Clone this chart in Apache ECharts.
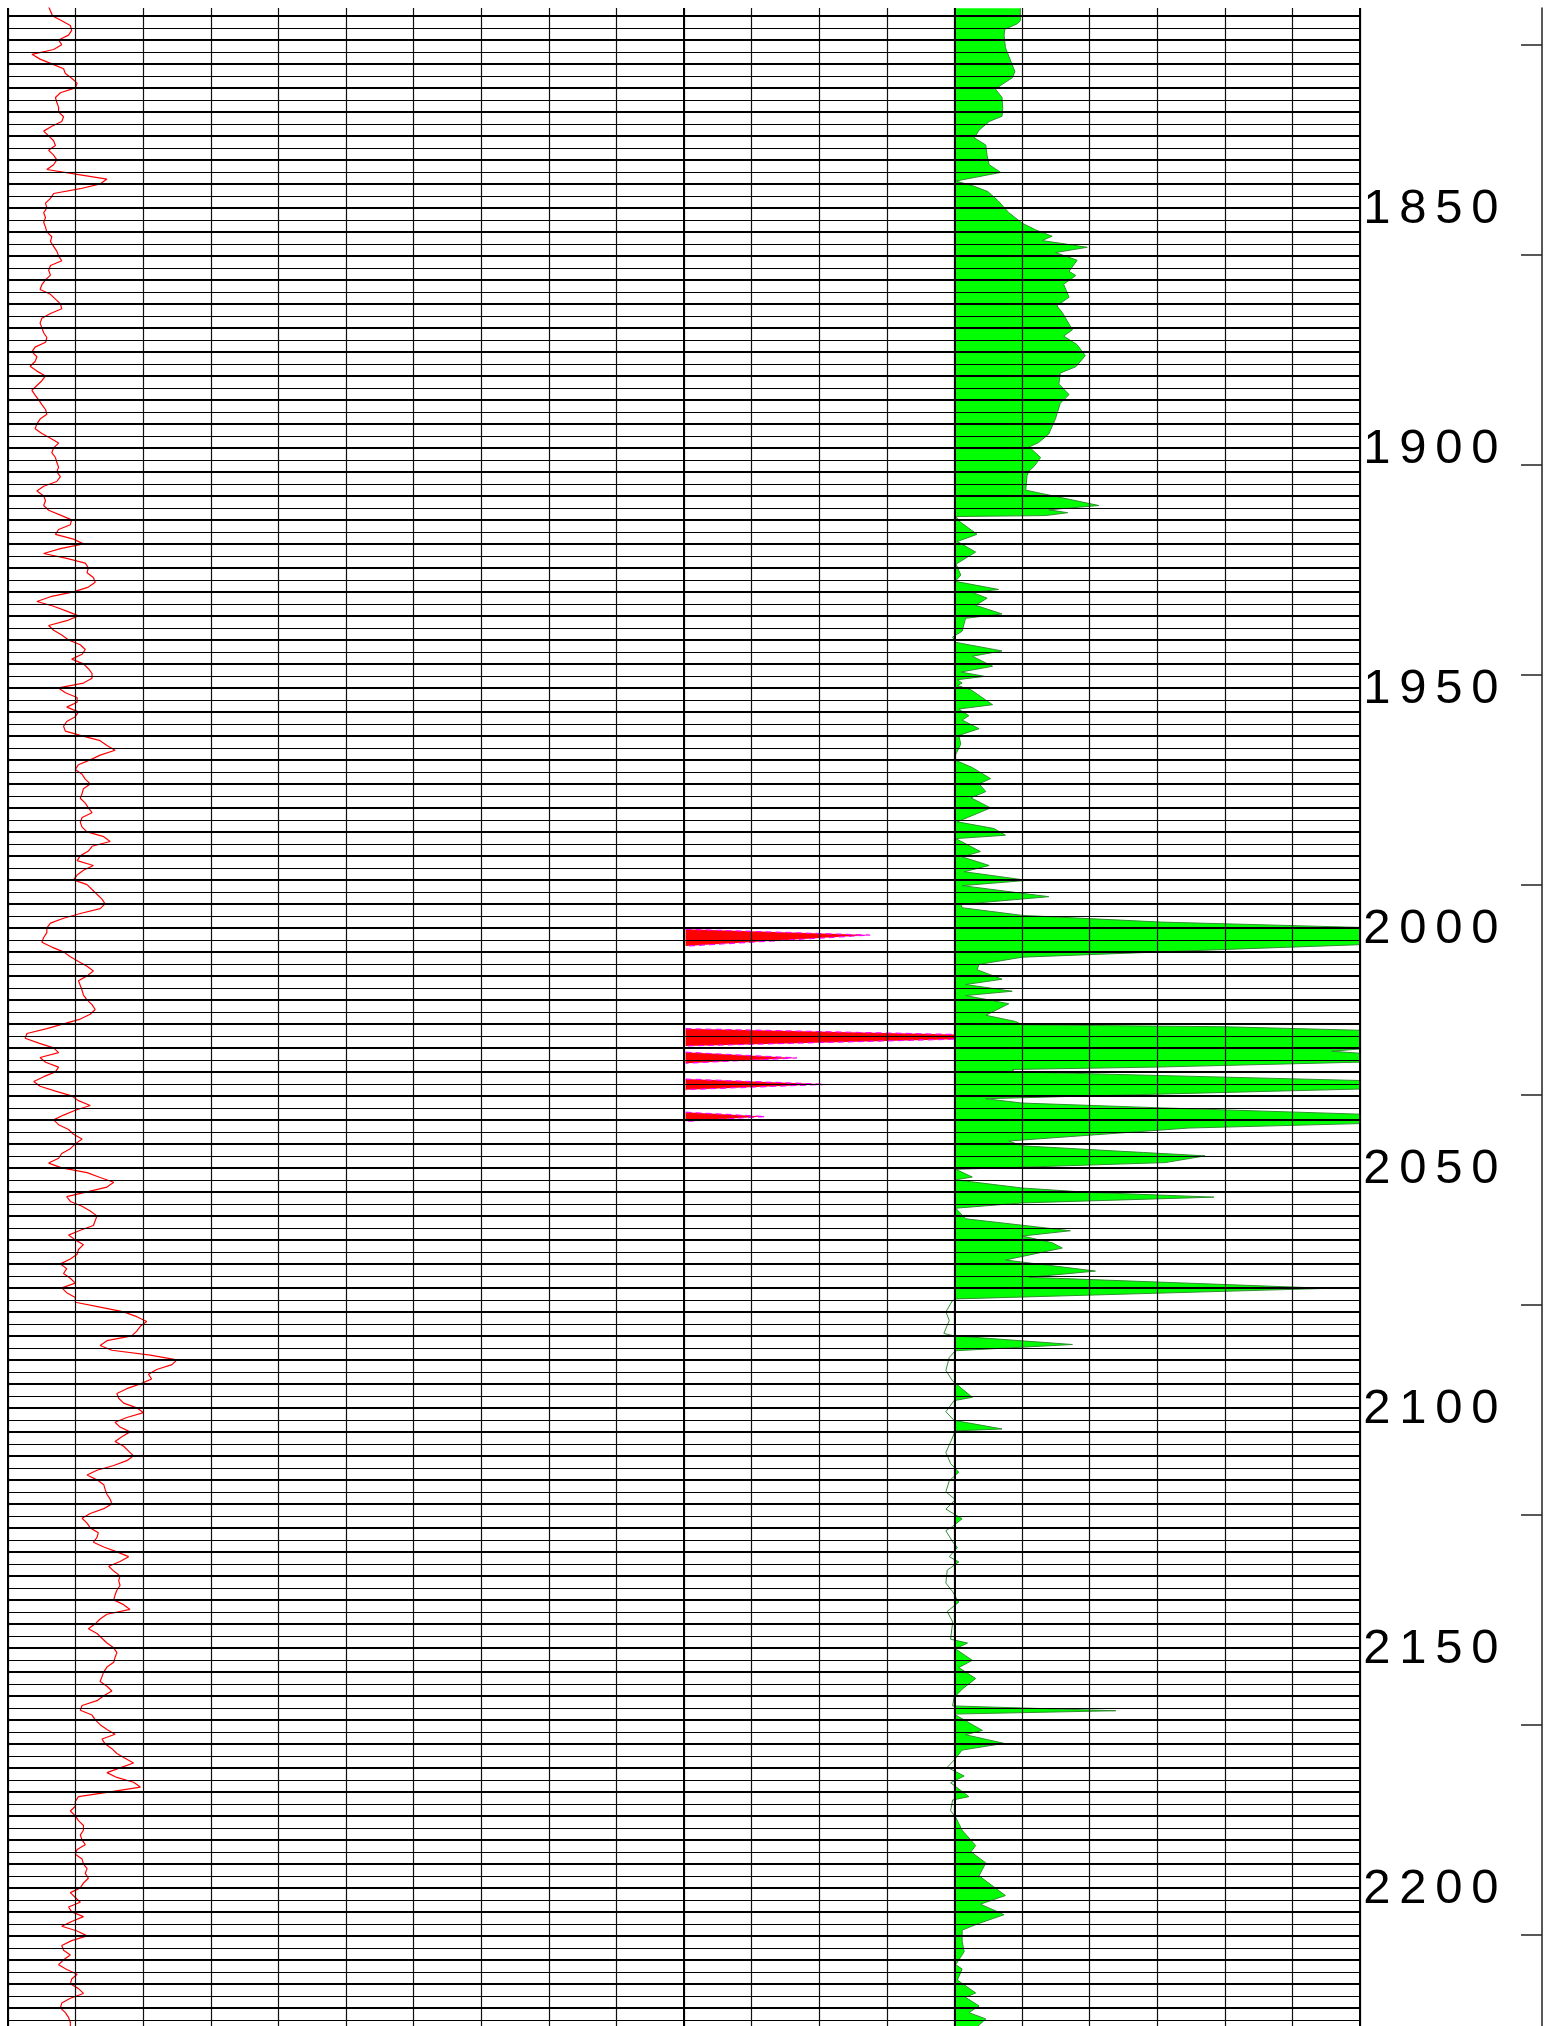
<!DOCTYPE html>
<html>
<head>
<meta charset="utf-8">
<title>log</title>
<script src="https://cdn.jsdelivr.net/npm/echarts@6/dist/echarts.min.js"></script>
<style>
html, body { margin: 0; padding: 0; background: #fff; }
#log { width: 1556px; height: 2026px; }
</style>
</head>
<body>
<div id="log"></div>
<script>
// depth window shown (m)
const depthTop = 1808.35;
const depthBottom = 2229.2;
const depthLabels = [1850, 1900, 1950, 2000, 2050, 2100, 2150, 2200];

// track 1 : red curve, one reading per metre starting at grStart
const grStart = 1808;
const grValues = [
  9.0, 9.4, 9.9, 11.9, 13.8, 14.1, 13.4, 11.2, 11.9, 10.1,
  5.3, 7.1, 9.7, 12.3, 12.7, 14.1, 15.3, 14.9, 11.6, 10.5,
  10.8, 11.2, 11.2, 12.3, 11.9, 9.7, 7.9, 9.0, 10.1, 10.5,
  9.0, 10.1, 10.8, 10.1, 8.6, 15.3, 21.9, 20.4, 16.0, 10.1,
  9.4, 8.3, 8.6, 7.9, 8.3, 7.9, 8.3, 8.6, 9.7, 9.4,
  10.1, 10.8, 11.2, 11.9, 9.4, 9.0, 9.4, 8.3, 7.5, 7.1,
  9.4, 10.5, 11.6, 11.9, 9.4, 7.5, 7.1, 7.5, 7.9, 8.6,
  8.3, 6.0, 5.3, 6.4, 6.0, 4.9, 6.4, 8.3, 7.5, 6.4,
  5.3, 6.0, 6.8, 7.5, 8.3, 8.6, 7.1, 6.4, 6.0, 7.5,
  9.4, 11.2, 10.1, 9.7, 10.5, 10.8, 11.2, 10.8, 11.6, 10.8,
  7.9, 6.4, 7.9, 8.3, 7.9, 9.0, 11.6, 14.1, 13.8, 11.2,
  10.5, 14.5, 16.7, 11.6, 7.9, 13.0, 17.1, 17.8, 17.5, 18.9,
  19.3, 17.8, 14.5, 9.4, 6.4, 10.1, 13.0, 15.6, 13.0, 9.0,
  10.1, 11.9, 13.4, 16.0, 17.1, 16.4, 14.1, 16.7, 17.8, 18.6,
  18.6, 16.7, 11.2, 12.7, 15.3, 15.3, 13.0, 15.6, 14.9, 13.0,
  12.3, 12.7, 16.4, 20.4, 21.9, 23.7, 20.4, 18.2, 15.6, 14.9,
  16.4, 17.1, 18.2, 16.7, 16.4, 16.0, 17.1, 17.8, 18.6, 16.4,
  16.0, 16.4, 17.5, 21.2, 22.6, 18.6, 17.8, 16.0, 15.3, 18.9,
  16.7, 15.3, 14.5, 17.5, 18.6, 19.7, 20.8, 21.5, 20.4, 16.0,
  12.3, 9.4, 8.6, 8.6, 7.9, 7.5, 9.7, 12.3, 13.8, 15.6,
  17.5, 18.9, 17.5, 15.6, 16.0, 16.4, 16.7, 17.5, 18.6, 19.3,
  18.2, 16.0, 12.3, 8.6, 4.2, 3.8, 6.8, 10.1, 11.2, 7.1,
  8.3, 11.2, 10.5, 7.9, 5.7, 7.1, 10.5, 14.1, 15.6, 18.2,
  14.9, 12.3, 10.1, 11.2, 13.4, 14.5, 16.4, 14.9, 13.8, 11.9,
  11.2, 9.0, 11.9, 17.5, 20.4, 23.4, 21.9, 17.5, 13.0, 13.8,
  16.4, 18.2, 19.7, 19.3, 18.9, 16.0, 13.4, 14.9, 16.7, 15.6,
  15.3, 13.8, 11.6, 13.0, 12.3, 13.8, 14.9, 11.9, 13.0, 14.9,
  14.9, 20.4, 25.6, 28.5, 30.7, 29.3, 28.5, 27.4, 21.9, 20.4,
  23.0, 31.5, 37.4, 36.3, 32.9, 31.1, 31.8, 29.3, 26.3, 24.1,
  24.5, 25.6, 28.5, 30.0, 26.3, 23.7, 24.8, 27.0, 25.2, 23.7,
  25.6, 26.7, 27.8, 26.3, 23.4, 19.7, 17.5, 19.7, 21.2, 21.5,
  21.9, 22.6, 23.0, 21.2, 18.2, 16.4, 17.5, 18.2, 20.0, 19.7,
  18.9, 21.2, 24.1, 26.7, 24.8, 22.3, 23.4, 24.8, 24.5, 24.8,
  24.1, 23.7, 23.4, 25.6, 27.0, 21.9, 20.4, 19.3, 17.8, 19.7,
  20.8, 21.9, 23.4, 24.1, 23.7, 23.4, 21.9, 21.2, 20.8, 20.4,
  21.9, 23.0, 21.2, 19.7, 16.4, 16.0, 18.6, 19.3, 20.4, 21.9,
  23.7, 20.8, 21.5, 23.0, 24.1, 25.9, 27.8, 24.8, 21.9, 24.1,
  27.8, 29.3, 22.6, 15.6, 14.9, 14.9, 13.8, 14.9, 15.6, 16.7,
  16.7, 16.0, 16.4, 17.1, 15.3, 14.9, 16.4, 16.7, 17.5, 17.1,
  17.8, 16.7, 16.0, 13.8, 14.9, 16.0, 13.4, 14.1, 16.7, 14.1,
  11.9, 15.3, 17.5, 14.1, 11.9, 12.3, 13.8, 12.3, 11.2, 13.0,
  15.3, 14.1, 13.8, 15.6, 16.7, 13.8, 11.9, 11.6, 12.7, 13.4,
  13.8, 13.8, 13.4
];

// track 2 : red spikes (null = gap between spikes)
const spikeDepth = [
  2000.3, 2001.5, 2003.8, null,
  2021.0, 2022.66, 2024.6, null,
  2025.9, 2027.1, 2028.2, null,
  2031.5, 2032.6, 2033.7, null,
  2038.4, 2039.3, 2040.3
];
const spikeValue = [
  0, 27.5, 0, null,
  0, 55, 0, null,
  0, 16.6, 0, null,
  0, 20.9, 0, null,
  0, 11.8, 0
];

// track 3 : green curve
const resDepth = [
  1808.4, 1811.0, 1811.6, 1812.8, 1814.0, 1816.6, 1818.4, 1821.6, 1822.9, 1825.2,
  1827.0, 1829.3, 1830.9, 1832.0, 1833.8, 1835.4, 1836.9, 1839.2, 1841.0, 1842.6,
  1844.4, 1844.8, 1845.5, 1846.6, 1848.5, 1849.9, 1851.0, 1853.2, 1854.6, 1855.9,
  1856.8, 1858.2, 1859.3, 1860.9, 1863.2, 1864.1, 1865.9, 1868.6, 1870.4, 1871.8,
  1875.4, 1876.7, 1878.5, 1880.8, 1883.1, 1884.4, 1886.7, 1888.9, 1890.7, 1893.9,
  1897.1, 1898.9, 1899.8, 1902.0, 1903.9, 1904.8, 1905.7, 1908.8, 1912.0, 1912.9,
  1913.5, 1914.1, 1914.3, 1915.2, 1918.0, 1919.5, 1921.7, 1924.2, 1926.5, 1927.8,
  1929.5, 1930.1, 1931.3, 1932.8, 1934.6, 1935.5, 1938.2, 1939.4, 1940.5, 1942.3,
  1943.4, 1945.5, 1946.7, 1947.6, 1948.3, 1949.0, 1949.5, 1950.4, 1953.5, 1954.4,
  1955.8, 1956.7, 1958.5, 1959.9, 1961.7, 1963.9, 1965.1, 1966.6, 1968.9, 1970.0,
  1971.6, 1972.9, 1975.0, 1977.9, 1979.3, 1980.7, 1981.4, 1984.1, 1985.2, 1987.0,
  1988.3, 1990.1, 1991.2, 1993.5, 1995.1, 1995.8, 1997.4, 1998.8, 1999.9, 2001.5,
  2003.5, 2004.5, 2005.0, 2006.1, 2007.6, 2008.7, 2010.7, 2011.8, 2013.2, 2014.1,
  2015.8, 2018.2, 2019.5, 2020.2, 2020.6, 2021.4, 2023.0, 2025.0, 2025.7, 2026.6,
  2027.9, 2029.0, 2029.5, 2030.0, 2031.8, 2033.5, 2035.0, 2035.6, 2036.5, 2037.5,
  2038.9, 2040.7, 2041.7, 2044.4, 2045.4, 2046.8, 2047.5, 2048.9, 2050.3, 2051.9,
  2052.5, 2054.2, 2055.1, 2056.1, 2057.3, 2058.4, 2060.6, 2063.1, 2064.2, 2065.6,
  2066.7, 2069.2, 2071.5, 2072.8, 2075.1, 2077.3, 2077.7, 2080.0, 2081.8, 2084.5,
  2085.0, 2086.8, 2088.1, 2089.5, 2092.2, 2094.4, 2097.8, 2098.5, 2100.8, 2102.6,
  2104.4, 2104.8, 2107.1, 2109.3, 2111.6, 2113.4, 2115.2, 2117.5, 2119.1, 2121.1,
  2123.1, 2124.7, 2125.6, 2127.9, 2129.1, 2131.0, 2132.1, 2133.8, 2136.5, 2138.3,
  2140.5, 2142.4, 2144.6, 2148.2, 2149.0, 2150.2, 2152.6, 2154.1, 2156.4, 2158.6,
  2160.4, 2162.1, 2163.1, 2163.8, 2167.2, 2168.1, 2169.9, 2171.3, 2173.4, 2174.9,
  2176.7, 2178.1, 2181.0, 2181.7, 2183.9, 2185.3, 2188.0, 2191.2, 2192.5, 2194.8,
  2197.5, 2201.6, 2203.4, 2205.6, 2207.4, 2208.8, 2211.1, 2213.3, 2216.0, 2216.9,
  2219.2, 2221.9, 2222.8, 2224.6, 2226.0, 2227.3, 2229.5
];
const resValue = [
  9.8, 9.8, 9.4, 7.5, 7.4, 7.6, 8.1, 9.0, 8.6, 6.1,
  7.1, 7.2, 7.1, 5.2, 3.7, 3.0, 4.7, 4.9, 5.2, 6.9,
  0.3, 0.3, 3.0, 5.0, 6.5, 7.4, 8.1, 10.1, 12.1, 14.5,
  13.0, 19.7, 15.0, 18.2, 17.0, 18.0, 16.2, 17.0, 15.2, 16.0,
  17.5, 16.2, 18.2, 19.4, 18.0, 15.7, 15.5, 17.0, 15.7, 15.0,
  14.0, 12.5, 11.1, 12.8, 11.8, 11.1, 10.8, 10.6, 21.4, 14.0,
  16.8, 13.5, 0.3, 0.7, 3.4, 0.5, 3.2, 0.3, 1.0, 0.2,
  6.6, 2.7, 4.9, 3.2, 7.1, 1.7, 1.2, -0.2, 0.2, 7.1,
  2.7, 5.7, 1.0, 4.5, 0.5, 1.2, 0.5, 2.5, 5.7, 0.7,
  2.2, 1.2, 3.7, 0.7, 1.0, 0.25, 0.25, 2.7, 5.4, 3.7,
  4.7, 2.5, 5.4, 0.5, 5.9, 7.6, 0.25, 3.9, 1.2, 5.2,
  1.5, 10.8, 1.2, 14.0, 1.0, 1.2, 10.1, 30.7, 60, 75,
  60, 40, 30.7, 10.1, 3.7, 3.4, 7.1, 1.7, 8.6, 1.7,
  8.1, 4.7, 9.1, 10.1, 40, 62, 70, 62, 55.8, 65,
  62, 30, 8.6, 9, 60, 62, 20, 4.7, 10.1, 30.7,
  62, 62, 34.7, 8.1, 10, 28, 37.1, 31.2, 0.25, 2.7,
  0.25, 10.1, 19.9, 38.4, 10.1, 0.25, 1.7, 17.2, 10.1, 14.5,
  16.0, 7.6, 20.9, 11.1, 55.3, 0.25, -0.25, -1.2, -0.7, -1.5,
  0, 17.5, 0.2, -0.7, -1.2, -0.2, 2.7, 0, -1.2, 0,
  7.1, 0.2, -0.5, -1.2, -0.5, 0.7, -0.7, -1.2, 0.2, -1.2,
  1.2, -0.2, -1.2, -0.2, 0.5, -0.7, 0.7, -1.0, -1.2, -0.2,
  0.7, -1.0, -0.2, -0.5, 2.0, 0.2, 2.7, 0.7, 3.2, 1.2,
  0, -0.2, 23.9, 0, 4.2, 1.7, 7.4, 1.2, 0, -1.0,
  1.5, -0.5, 2.2, -0.2, -0.5, 0.25, 1.2, 3.2, 2.5, 4.7,
  3.7, 7.6, 3.9, 7.4, 3.7, 1.2, 1.2, 1.5, 0.25, 1.2,
  0.5, 3.2, 1.7, 3.7, 2.2, 4.7, 3.0
];

// pairs for the library: [value, depth]
const grData = grValues.map((v, i) => [v, grStart + i]);
const spikeData = spikeDepth.map((d, i) => d === null ? ['-', '-'] : [spikeValue[i], d]);
const resData = resDepth.map((d, i) => [resValue[i], d]);

const chart = echarts.init(document.getElementById('log'), null, { renderer: 'canvas' });

const frameRight = 1556 - 1360;
const hidden = { show: false };
function depthAxis(grid, type) {
  return {
    gridIndex: grid, type: type, inverse: true,
    min: depthTop, max: depthBottom,
    axisLine: hidden, axisTick: hidden, axisLabel: hidden, splitLine: hidden
  };
}
function valueAxis(grid, min, max) {
  return {
    gridIndex: grid, type: 'value', min: min, max: max,
    axisLine: hidden, axisTick: hidden, axisLabel: hidden, splitLine: hidden
  };
}
function box(cfg) {
  return Object.assign({ outerBoundsMode: 'none', containLabel: false }, cfg);
}
// depth label, spaced out digit by digit like the original print
function depthLabel(v) {
  const d = Math.round(v * 100) / 100;
  if (!depthLabels.includes(d)) return '';
  return String(d).split('').map(c => '{d|' + c + '}').join('');
}

const option = {
  animation: false,
  backgroundColor: '#fff',
  grid: [
    box({ left: 8, right: frameRight, top: 8, bottom: -2 }),          // 0 frame + grid lines
    box({ left: 8, width: 677.6, top: 8, bottom: -2 }),               // 1 red curve
    box({ left: 685.6, width: 268.4, top: 8, bottom: -2 }),           // 2 red spikes
    box({ left: 940.47, right: frameRight, top: 8, bottom: -2 }),     // 3 green line
    box({ left: 954, right: frameRight, top: 8, bottom: -2 }),        // 4 green fill
    box({ left: 1400, right: 14, top: -165, bottom: -40 }),           // 5 right ticks
    box({ left: 1400, right: 14, top: 8, bottom: -5 })                // 6 right line
  ],
  xAxis: [
    {
      gridIndex: 0, type: 'value', min: 0, max: 20, interval: 1, z: 5,
      axisLine: hidden, axisTick: hidden, axisLabel: hidden,
      splitLine: { show: true, lineStyle: { color: '#111', width: 1.2 } }
    },
    {
      gridIndex: 0, type: 'value', min: 0, max: 20, interval: 2, position: 'top', z: 6,
      axisLine: hidden, axisTick: hidden, axisLabel: hidden,
      splitLine: {
        show: true,
        lineStyle: {
          width: 2,
          color: ['#000', 'rgba(0,0,0,0)', 'rgba(0,0,0,0)', 'rgba(0,0,0,0)', 'rgba(0,0,0,0)',
                  '#000', 'rgba(0,0,0,0)', '#000', 'rgba(0,0,0,0)', 'rgba(0,0,0,0)', '#000']
        }
      }
    },
    valueAxis(1, 0, 150),
    valueAxis(2, 0, 40),
    valueAxis(3, -2, 60),
    valueAxis(4, 0, 60),
    valueAxis(5, 0, 1),
    valueAxis(6, 0, 1)
  ],
  yAxis: [
    {
      gridIndex: 0, type: 'value', inverse: true, min: depthTop, max: depthBottom,
      minInterval: 2.5, maxInterval: 2.5, position: 'left', z: 5,
      axisLine: hidden, axisTick: hidden, axisLabel: hidden,
      splitLine: { show: true, showMinLine: false, showMaxLine: false, lineStyle: { color: '#000', width: 1 } }
    },
    {
      gridIndex: 0, type: 'value', inverse: true, min: depthTop, max: depthBottom,
      minInterval: 5, maxInterval: 5, position: 'right', z: 6,
      axisLine: hidden, axisTick: hidden,
      axisLabel: {
        show: true, margin: -1, color: '#000',
        showMinLabel: false, showMaxLabel: false,
        formatter: depthLabel,
        rich: {
          d: {
            width: 36, align: 'center', fontSize: 49, lineHeight: 56,
            fontFamily: 'Liberation Sans', color: '#000', padding: [4, 0, 0, 0]
          }
        }
      },
      splitLine: { show: true, showMinLine: false, showMaxLine: false, lineStyle: { color: '#000', width: 2 } }
    },
    depthAxis(1, 'value'),
    depthAxis(2, 'time'),
    depthAxis(3, 'value'),
    depthAxis(4, 'time'),
    {
      gridIndex: 5, type: 'value', inverse: true, min: 0, max: 2231, interval: 210,
      position: 'right',
      axisLine: { show: false, onZero: false }, axisLabel: hidden, splitLine: hidden,
      axisTick: { show: true, inside: true, length: 21, lineStyle: { color: '#222', width: 1.5 } }
    },
    {
      gridIndex: 6, type: 'value', min: 0, max: 1, position: 'right',
      axisLine: { show: true, onZero: false, lineStyle: { color: '#222', width: 1.5 } },
      axisTick: hidden, axisLabel: hidden, splitLine: hidden
    }
  ],
  series: [
    {
      name: 'red curve', type: 'line', xAxisIndex: 2, yAxisIndex: 2,
      data: grData, showSymbol: false, smooth: false,
      lineStyle: { color: '#ff0000', width: 1.2 }
    },
    {
      name: 'spikes', type: 'line', xAxisIndex: 3, yAxisIndex: 3,
      data: spikeData, showSymbol: false, connectNulls: false,
      lineStyle: { color: '#ff00ff', width: 1.2, type: [6, 4] },
      areaStyle: { color: '#ff0000', opacity: 1 }
    },
    {
      name: 'green line', type: 'line', xAxisIndex: 4, yAxisIndex: 4,
      data: resData, showSymbol: false,
      lineStyle: { color: '#2f8f2f', width: 1 }
    },
    {
      name: 'green fill', type: 'line', xAxisIndex: 5, yAxisIndex: 5,
      data: resData, showSymbol: false,
      lineStyle: { width: 0 },
      areaStyle: { color: '#00ff00', opacity: 1 }
    }
  ]
};

chart.setOption(option);
</script>
</body>
</html>
